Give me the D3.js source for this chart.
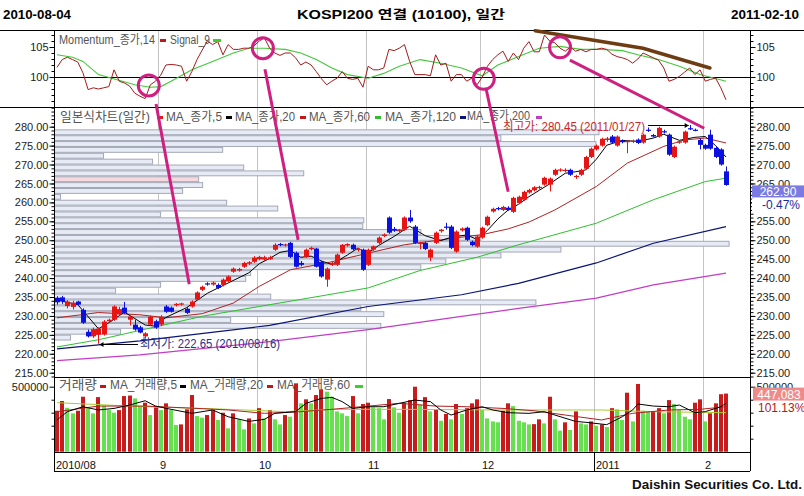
<!DOCTYPE html>
<html>
<head>
<meta charset="utf-8">
<script src="https://d3js.org/d3.v7.min.js"></script>
<style>
html,body{margin:0;padding:0;background:#fff;}
svg{display:block;}
text{font-family:"Liberation Sans","Noto Sans CJK KR",sans-serif;}
</style>
</head>
<body>
<svg id="chart" width="804" height="496"></svg>
<script>
// ------------------------- DATA -------------------------
const startDate = "2010-08-04";
const endDate = "2011-02-10";
const titleText = "KOSPI200 연결 (10100), 일간";
const monthLabels = ["2010/08","9","10","11","12","2011","2"];
const monthStart = [0,20,39,60,82,104,125];

const opens = [
234.8,234.9,232.6,232.4,233.8,231.6,225.8,224.6,225.0,225.1,
228.6,229.0,230.4,232.2,229.0,227.7,227.0,224.6,227.7,228.6,
227.7,232.5,232.2,232.8,233.0,231.9,232.5,234.3,236.9,238.6,
238.3,238.2,238.2,239.2,241.7,242.0,243.0,243.8,244.3,245.0,
244.9,245.0,247.5,249.0,248.6,249.3,246.7,244.0,245.6,247.6,
247.8,244.3,239.6,243.5,243.5,246.7,248.6,248.8,247.4,247.5,
243.5,247.5,249.3,251.1,256.0,253.0,252.4,252.8,256.0,253.6,
249.0,249.3,245.4,249.3,252.4,253.6,253.6,247.0,252.6,253.3,
249.6,248.3,250.7,254.0,257.6,258.5,258.0,258.6,257.5,259.8,
260.7,262.6,263.2,263.8,264.7,264.7,267.3,268.4,268.3,268.6,
266.7,267.3,268.9,272.0,274.0,275.0,276.5,277.4,275.0,276.3,
275.9,276.0,276.6,275.8,279.2,277.8,277.4,278.8,277.9,272.0,
275.8,275.8,279.6,279.2,276.5,275.2,277.9,274.4,274.0,268.2];
const highs = [
235.2,235.3,234.2,234.0,234.0,232.0,226.4,226.9,227.0,228.9,
229.3,232.8,232.4,233.7,230.1,229.0,227.4,225.7,230.1,229.0,
230.2,232.9,232.5,233.4,233.5,232.3,234.1,236.5,238.0,238.9,
239.1,238.6,239.9,240.7,242.8,242.7,244.3,244.5,245.8,245.9,
245.9,245.9,249.2,249.3,249.1,249.6,247.0,244.5,247.8,248.3,
248.0,244.6,242.8,244.3,246.5,249.0,249.2,249.1,248.0,247.8,
247.8,248.6,251.0,251.8,256.3,253.5,253.0,256.3,258.0,254.0,
249.6,249.6,247.8,252.3,253.0,254.6,254.0,252.6,253.4,253.6,
249.9,251.3,253.6,256.5,258.6,258.8,259.1,259.0,261.5,261.8,
263.1,263.6,264.3,264.4,266.8,266.6,268.9,269.0,269.0,268.9,
267.3,268.9,272.3,274.5,275.3,277.1,277.3,277.8,277.7,276.6,
276.5,276.6,276.9,278.2,279.8,278.1,280.0,279.2,278.2,275.0,
276.4,279.0,280.45,279.5,276.9,275.5,279.2,274.8,274.3,269.5];
const lows = [
233.0,233.2,232.0,231.7,232.6,227.9,224.3,224.2,222.65,224.8,
228.2,228.7,230.0,230.5,227.5,226.1,225.4,224.0,227.4,226.6,
227.3,230.8,230.9,232.5,232.7,230.5,232.2,234.0,236.6,238.0,
238.0,237.1,237.8,238.9,241.4,241.7,242.7,243.4,244.0,244.7,
244.6,244.8,247.2,248.4,248.3,245.3,242.8,243.1,245.3,247.3,
242.8,240.1,237.7,243.2,243.2,246.4,248.3,247.3,247.0,241.9,
243.2,247.2,249.0,250.8,251.7,252.2,252.0,252.5,254.6,249.0,
247.6,247.4,244.5,249.0,252.0,252.8,247.7,246.7,252.3,249.8,
248.4,248.0,250.4,253.7,257.3,257.9,257.7,257.8,257.2,259.5,
260.4,262.3,262.9,263.4,264.4,262.9,267.0,268.1,268.0,267.0,
266.2,267.0,268.6,271.7,273.7,274.7,276.0,275.5,274.7,275.6,
273.0,275.7,275.4,275.5,278.6,277.2,277.1,278.2,272.3,271.7,
275.5,275.5,279.1,278.8,274.0,273.9,273.9,271.7,269.7,264.4];
const closes = [
233.6,233.9,233.8,233.5,233.0,228.2,224.6,226.5,226.6,228.5,
229.0,232.5,231.8,230.8,229.8,226.4,225.6,225.4,229.8,226.9,
229.8,231.1,231.1,233.2,233.3,230.8,233.8,236.2,237.7,238.3,
238.8,237.4,239.6,240.4,242.5,242.4,244.0,244.2,245.4,245.6,
245.5,245.5,248.8,248.7,248.9,245.6,243.0,243.5,247.5,248.0,
243.0,240.4,242.5,244.0,246.2,248.8,249.0,247.6,247.7,242.2,
247.5,248.4,250.7,251.5,252.0,252.5,252.8,256.0,255.0,249.3,
249.4,247.7,247.5,252.0,252.8,253.3,248.0,252.3,253.1,250.1,
248.7,251.0,253.3,256.2,258.3,258.2,258.8,258.0,261.2,261.5,
262.8,263.3,264.0,264.1,266.5,266.3,268.6,268.7,268.6,267.3,
267.0,268.6,272.0,274.2,275.0,276.8,276.9,275.8,277.4,275.9,
276.3,276.3,275.7,277.9,278.9,277.4,279.7,278.5,272.6,274.7,
276.1,278.7,279.3,279.0,275.2,274.2,274.2,272.0,270.0,264.6];

const volumes = [
315000,390000,338000,295000,315000,423000,335000,295000,420000,351000,
321000,300000,320000,428000,432000,410000,351000,377000,282000,341000,
320000,372000,320000,205000,210000,326000,436000,274000,262000,282000,
320000,244000,300000,180000,295000,249000,172000,256000,218000,335000,
256000,320000,249000,210000,282000,269000,526000,372000,403000,372000,
436000,480000,462000,423000,310000,295000,274000,428000,295000,367000,
377000,341000,335000,249000,405000,341000,300000,377000,397000,500000,
362000,420000,310000,326000,238000,290000,249000,367000,290000,335000,
372000,403000,320000,256000,233000,226000,315000,372000,351000,238000,
226000,210000,212000,249000,218000,423000,249000,162000,226000,167000,
310000,218000,210000,233000,200000,210000,190000,335000,326000,244000,
454000,233000,521000,315000,310000,312000,335000,295000,397000,367000,
320000,269000,249000,377000,403000,233000,295000,372000,442100,447083];

// price moving averages: [day index, value]
const ma5Price = [[0,234.2],[4,233.0],[8,226.6],[10,228.2],[13,231.0],[17,227.6],[19,227.3],[21,229.6],[25,232.2],[29,236.0],[33,238.7],[37,241.4],[39,243.8],[41,245.2],[43,246.8],[45,247.3],[47,245.5],[49,245.8],[51,244.5],[53,243.6],[56,246.1],[58,247.9],[60,246.6],[62,248.6],[65,251.0],[68,253.7],[71,251.2],[74,249.9],[76,250.8],[79,251.4],[81,250.2],[83,252.6],[85,255.6],[87,258.0],[89,259.5],[91,261.5],[93,263.2],[95,264.9],[98,267.7],[100,268.1],[102,268.6],[104,271.4],[106,275.1],[109,276.4],[112,276.1],[115,277.0],[117,278.0],[120,276.4],[123,277.2],[125,277.4],[127,275.0],[129,272.0]];
const ma20Price = [[0,229.5],[8,230.9],[16,230.3],[21,229.5],[28,230.6],[34,233.4],[39,237.8],[45,242.2],[52,244.0],[60,246.6],[67,248.8],[74,250.1],[82,251.5],[87,253.0],[91,254.8],[96,258.0],[104,264.2],[110,270.4],[117,274.8],[121,276.5],[125,277.0],[129,275.7]];
const ma60Price = [[0,221.8],[8,223.7],[18,226.8],[28,229.9],[39,232.5],[60,237.4],[70,242.0],[81,245.5],[89,248.8],[104,254.5],[115,260.7],[125,265.5],[129,266.4]];
const ma120Price = [[0,221.3],[16,223.4],[41,227.5],[60,232.5],[78,235.6],[89,238.6],[104,244.0],[115,249.2],[129,253.6]];
const ma200Price = [[0,218.2],[16,219.7],[41,223.2],[60,226.4],[78,229.9],[89,232.0],[104,234.7],[115,238.2],[129,241.3]];

// volume moving averages: [day index, value]
const ma5Vol = [[0,244000],[2,308000],[5,346000],[8,321000],[11,333000],[14,359000],[17,392000],[19,351000],[22,326000],[26,295000],[30,321000],[33,269000],[37,233000],[40,249000],[42,295000],[46,308000],[48,372000],[51,410000],[53,418000],[55,385000],[57,333000],[60,346000],[63,346000],[66,372000],[69,397000],[72,385000],[74,321000],[76,282000],[79,321000],[82,346000],[84,321000],[87,300000],[91,295000],[94,308000],[96,282000],[100,233000],[102,226000],[106,208000],[109,269000],[111,321000],[112,367000],[115,351000],[118,346000],[120,359000],[123,300000],[125,308000],[128,346000],[129,372000]];
const ma20Vol = [[0,308000],[8,351000],[17,351000],[27,333000],[33,321000],[40,295000],[47,308000],[53,326000],[66,372000],[73,351000],[79,346000],[86,333000],[92,315000],[98,282000],[105,244000],[111,295000],[118,321000],[124,326000],[129,346000]];
const ma60Vol = [[0,377000],[14,351000],[33,326000],[44,308000],[53,326000],[66,326000],[86,321000],[105,321000],[115,308000],[129,300000]];

// momentum (14) and its signal (9)
const momentum = [
101.6,102.9,103.3,102.9,102.5,100.7,97.9,98.2,98.0,98.2,
98.4,101.2,99.3,99.0,98.5,97.3,96.8,96.4,98.7,99.3,
100.3,102.0,102.1,102.0,101.8,99.3,100.9,102.9,104.5,106.0,
105.4,105.9,103.7,105.4,104.6,104.6,104.8,104.8,105.2,106.0,
106.5,104.8,104.0,103.6,104.0,104.0,103.2,102.0,102.5,102.0,
100.9,99.7,98.7,99.3,99.8,100.9,99.8,99.6,99.8,98.3,
101.8,101.2,101.2,101.5,104.6,104.4,104.8,105.4,102.6,100.4,
100.4,100.4,100.2,103.7,102.0,102.3,99.3,100.4,100.4,99.3,
99.8,98.7,100.0,101.8,102.9,103.7,104.3,102.6,104.0,102.9,
104.8,105.9,104.2,104.2,107.0,106.0,105.7,104.8,104.3,105.0,
104.3,104.6,104.2,104.6,104.6,104.8,104.6,103.8,103.4,103.2,
102.9,102.3,103.0,104.0,103.6,103.2,102.8,101.5,99.3,99.6,
100.1,100.8,101.5,100.4,101.2,99.3,99.6,99.8,98.2,96.2];
const signal = [[0,103.7],[3,103.3],[5,102.6],[8,100.4],[15,98.7],[18,98.3],[20,98.4],[22,99.3],[26,101.2],[30,102.6],[34,104.0],[37,104.8],[40,104.8],[44,104.6],[47,104.0],[50,102.9],[53,101.5],[56,100.4],[60,99.8],[63,100.6],[66,101.8],[70,102.9],[74,102.3],[78,101.5],[82,100.2],[85,102.0],[89,103.4],[93,104.8],[97,105.1],[101,104.6],[105,104.6],[109,104.4],[112,103.7],[116,102.9],[120,101.8],[124,100.4],[129,99.3]];

// price-by-volume profile (top bucket first)
const profileTop = 279.3;
const profileStep = 1.55;
const profileVol = [544,446,541,168,49,98,189,249,144,148,128,6,172,223,106,309,308,366,426,674,506,446,391,366,196,191,106,61,216,481,306,329,176,326,66,16];
const profileHighlight = 8;

// tick labels
const priceTicks = [215,220,225,230,235,240,245,250,255,260,265,270,275,280];
const momTicks = [100,105];
const volTicks = [500000];

// extremes and last values
const highMark = {idx:122, price:280.45, label:"최고가: 280.45 (2011/01/27)"};
const lowMark = {idx:8, price:222.65, label:"최저가: 222.65 (2010/08/16)"};
const lastPrice = 262.90, lastChange = "-0.47%";
const lastVol = 447083, lastVolRatio = "101.13%";

// hand-drawn annotations
const momCircles = [[17.7,98.6],[39.7,104.8],[82.3,99.7],[97,104.95]];
const arrowLines = [ // [startIdx, startMomentum, endIdx, endPrice]
  [19.1,95.5,25.5,238.4],[40.1,101.3,46.5,250.1],[82.7,98.2,87.0,262.8],[98.9,102.8,124.8,279.6]];
const trendLine = [[92.2,107.7],[113,104.8],[125.9,101.5]];

// ------------------------- DRAW -------------------------
const N = closes.length;
const svg = d3.select("#chart");
const L = 54, R = 750;
const mTop = 30, mBot = 107, pTop = 107, pBot = 377, vTop = 377, vBot = 452, axBot = 471;

const x = d3.scaleBand().domain(d3.range(N)).range([54.4, 728.6]);
const xc = i => x(i) + x.bandwidth() / 2;
const xf = d3.scaleLinear().domain([0, N - 1]).range([xc(0), xc(N - 1)]);
const yM = d3.scaleLinear().domain([95, 105]).range([107, 47]);
const yP = d3.scaleLinear().domain([215, 280]).range([372.7, 126.7]);
const yV = d3.scaleLinear().domain([0, 500000]).range([451.7, 386.7]);

svg.append("rect").attr("width", 804).attr("height", 496).attr("fill", "#fff");

const defs = svg.append("defs");
function clip(id, y0, y1) {
  defs.append("clipPath").attr("id", id).append("rect")
    .attr("x", L).attr("y", y0).attr("width", R - L).attr("height", y1 - y0);
}
clip("cm", mTop, mBot); clip("cp", pTop, pBot); clip("cv", vTop, vBot);

// header
const hdrFont = "'Liberation Sans','Noto Sans CJK KR',sans-serif";
svg.append("text").attr("x", 3).attr("y", 19).attr("font-size", 12.5).attr("font-weight", "bold")
  .style("font-family", hdrFont)
  .attr("textLength", 68).attr("lengthAdjust", "spacingAndGlyphs").text(startDate);
svg.append("text").attr("x", 297).attr("y", 19).attr("font-size", 12.5).attr("font-weight", "bold")
  .style("font-family", hdrFont)
  .attr("textLength", 208).attr("lengthAdjust", "spacingAndGlyphs").text(titleText);
svg.append("text").attr("x", 731).attr("y", 19).attr("font-size", 12.5).attr("font-weight", "bold")
  .style("font-family", hdrFont)
  .attr("textLength", 68).attr("lengthAdjust", "spacingAndGlyphs").text(endDate);

// vertical month gridlines
const grid = svg.append("g");
monthStart.slice(1).forEach(i => {
  grid.append("line").attr("x1", Math.round(x(i)) + 0.5).attr("x2", Math.round(x(i)) + 0.5)
    .attr("y1", mTop).attr("y2", vBot).attr("stroke", "#c4c4c4");
});

// ---- price-by-volume profile ----
const pw = d3.scaleLinear().domain([0, d3.max(profileVol)]).range([0, 728.6 - L]);
const prof = svg.append("g").attr("clip-path", "url(#cp)");
profileVol.forEach((v, k) => {
  const top = yP(profileTop - k * profileStep);
  const bot = yP(profileTop - (k + 1) * profileStep);
  prof.append("rect").attr("x", L + 0.5).attr("y", top + 0.5)
    .attr("width", pw(v)).attr("height", bot - top - 1)
    .attr("fill", k === profileHighlight ? "#f6d8e0" : "#e6ebf5")
    .attr("stroke", "#a3a8b6").attr("stroke-width", 1);
});

// ---- price MAs ----
const pl = d3.line().x(d => xf(d[0])).y(d => yP(d[1]));
const pg = svg.append("g").attr("clip-path", "url(#cp)").attr("fill", "none");
pg.append("path").attr("d", pl(ma200Price)).attr("stroke", "#c23cc8").attr("stroke-width", 1.2);
pg.append("path").attr("d", pl(ma120Price)).attr("stroke", "#0a1478").attr("stroke-width", 1.2);
pg.append("path").attr("d", pl(ma60Price)).attr("stroke", "#2ec02e").attr("stroke-width", 1);
pg.append("path").attr("d", pl(ma20Price)).attr("stroke", "#b22222").attr("stroke-width", 1);

// ---- candles ----
const cg = svg.append("g").attr("clip-path", "url(#cp)");
for (let i = 0; i < N; i++) {
  const up = closes[i] >= opens[i];
  const col = up ? "#e81414" : "#0a10e0";
  const cxp = Math.round(xc(i)) + 0.5;
  cg.append("line").attr("x1", cxp).attr("x2", cxp).attr("y1", yP(highs[i])).attr("y2", yP(lows[i]))
    .attr("stroke", col).attr("stroke-width", 1);
  const yt = yP(Math.max(opens[i], closes[i])), yb = yP(Math.min(opens[i], closes[i]));
  cg.append("rect").attr("x", cxp - 2.5).attr("y", yt).attr("width", 5)
    .attr("height", Math.max(1.2, yb - yt)).attr("fill", col);
}
pg.append("path").attr("d", pl(ma5Price)).attr("stroke", "#000").attr("stroke-width", 1);

// ---- momentum ----
const mg = svg.append("g").attr("clip-path", "url(#cm)").attr("fill", "none");
mg.append("line").attr("x1", L).attr("x2", R).attr("y1", Math.round(yM(100)) + 0.5).attr("y2", Math.round(yM(100)) + 0.5)
  .attr("stroke", "#000");
mg.append("path").attr("d", d3.line().x(d => xf(d[0])).y(d => yM(d[1]))(signal))
  .attr("stroke", "#44c83c").attr("stroke-width", 1.1);
mg.append("path").attr("d", d3.line().x((d, i) => xc(i)).y(d => yM(d))(momentum))
  .attr("stroke", "#a41c1c").attr("stroke-width", 1);

// ---- volume ----
const vg = svg.append("g").attr("clip-path", "url(#cv)");
volumes.forEach((v, i) => {
  const up = i === 0 || v > volumes[i - 1];
  vg.append("rect").attr("x", Math.round(xc(i)) - 2).attr("y", yV(v)).attr("width", 4)
    .attr("height", yV(0) - yV(v)).attr("fill", up ? "#c81c1c" : "#66e04e");
});
const vl = d3.line().x(d => xf(d[0])).y(d => yV(d[1]));
vg.append("path").attr("d", vl(ma60Vol)).attr("fill", "none").attr("stroke", "#a6cc30").attr("stroke-width", 1);
vg.append("path").attr("d", vl(ma20Vol)).attr("fill", "none").attr("stroke", "#b02020").attr("stroke-width", 1);
vg.append("path").attr("d", vl(ma5Vol)).attr("fill", "none").attr("stroke", "#000").attr("stroke-width", 1);

// ---- frame lines ----
const fr = svg.append("g").attr("stroke", "#000").attr("stroke-width", 1);
[[0, 804, mTop], [0, 804, mBot], [L, R, vTop], [L, R, vBot], [L, R, axBot]].forEach(d => {
  fr.append("line").attr("x1", d[0]).attr("x2", d[1]).attr("y1", d[2] + 0.5).attr("y2", d[2] + 0.5);
});
[L, R].forEach(xx => fr.append("line").attr("x1", xx + 0.5).attr("x2", xx + 0.5).attr("y1", mTop).attr("y2", axBot));
fr.append("line").attr("x1", Math.round(x(monthStart[5])) + 0.5).attr("x2", Math.round(x(monthStart[5])) + 0.5)
  .attr("y1", vBot).attr("y2", axBot);

// ---- axes ----
function drawAxis(gen, xpos, scale, major, fmt, minor, hideLabels) {
  const g1 = svg.append("g").attr("transform", `translate(${xpos + 0.5},0)`)
    .call(gen(scale).tickValues(major).tickFormat(fmt).tickSizeInner(5).tickSizeOuter(0).tickPadding(1));
  g1.select(".domain").remove();
  g1.selectAll("text").attr("font-size", 11).attr("fill", "#222")
    .style("font-family", "'Liberation Sans',sans-serif");
  if (hideLabels) g1.selectAll("text").filter(d => hideLabels.includes(d)).remove();
  g1.selectAll("line").attr("stroke", "#000");
  const g2 = svg.append("g").attr("transform", `translate(${xpos + 0.5},0)`)
    .call(gen(scale).tickValues(minor).tickFormat("").tickSizeInner(3).tickSizeOuter(0));
  g2.select(".domain").remove();
  g2.selectAll("line").attr("stroke", "#000");
}
const pf = d => d.toFixed(2);
const priceMinor = d3.range(214, 286, 1);
const momMinor = d3.range(96, 108, 1);
const volMinor = [100000, 200000, 300000, 400000];
drawAxis(d3.axisLeft, L, yP, priceTicks, pf, priceMinor);
drawAxis(d3.axisLeft, L, yM, momTicks, d => String(d), momMinor);
drawAxis(d3.axisLeft, L, yV, volTicks, d => String(d), volMinor);
// on the right, the 260.00 label sits under the change-percent tag (hidden in the original)
drawAxis(d3.axisRight, R, yP, priceTicks, pf, priceMinor, [260]);
drawAxis(d3.axisRight, R, yM, momTicks, d => String(d), momMinor);
drawAxis(d3.axisRight, R, yV, volTicks, d => String(d), volMinor);

// x axis labels
monthLabels.forEach((lab, k) => {
  svg.append("text").attr("x", Math.round(x(monthStart[k])) + 2).attr("y", 469)
    .attr("font-size", 11).attr("fill", "#111").text(lab);
});

// ---- legends ----
function ltext(xp, yp, t, len, size) {
  svg.append("text").attr("x", xp).attr("y", yp).attr("font-size", size || 12).attr("fill", "#555")
    .attr("textLength", len).attr("lengthAdjust", "spacingAndGlyphs").text(t);
}
function lmark(xp, yp, col, w) {
  svg.append("rect").attr("x", xp).attr("y", yp).attr("width", w || 6).attr("height", 3).attr("fill", col);
}
ltext(59, 44, "Momentum_종가,14", 96, 12); lmark(160, 39, "#c01818");
ltext(170, 44, "Signal_9", 40, 12); lmark(213, 39, "#3cd02c", 8);

ltext(60, 121, "일본식차트(일간)", 90, 13); lmark(157, 116, "#e41a1a");
ltext(166, 121, "MA_종가,5", 56); lmark(226, 116, "#000");
ltext(235, 121, "MA_종가,20", 60); lmark(300, 116, "#c01818");
ltext(309, 121, "MA_종가,60", 61); lmark(375, 116, "#2ec02e");
ltext(385, 121, "MA_종가,120", 71); lmark(460, 116, "#0a1478");
ltext(467, 120, "MA_종가,200", 63); lmark(536, 116, "#c23cc8");

ltext(59, 389, "거래량", 38, 13); lmark(100, 385, "#c01818");
ltext(110, 389, "MA_거래량,5", 67); lmark(180, 385, "#000");
ltext(190, 389, "MA_거래량,20", 73); lmark(267, 385, "#c01818");
ltext(277, 389, "MA_거래량,60", 73); lmark(355, 385, "#3cd02c", 8);

// ---- high / low markers ----
const hy = Math.round(yP(highMark.price)) + 0.5;
svg.append("text").attr("x", 503).attr("y", 131).attr("font-size", 12).attr("fill", "#c82828")
  .attr("textLength", 142).attr("lengthAdjust", "spacingAndGlyphs").text(highMark.label);
svg.append("line").attr("x1", 648).attr("x2", xc(highMark.idx) - 1).attr("y1", hy).attr("y2", hy).attr("stroke", "#000");
svg.append("path").attr("d", `M${xc(highMark.idx) - 1},${hy} l-4,-2.5 l0,5 z`).attr("fill", "#000");
const ly = Math.round(yP(lowMark.price)) + 0.5;
svg.append("text").attr("x", 140).attr("y", 348).attr("font-size", 12).attr("fill", "#26308a")
  .attr("textLength", 140).attr("lengthAdjust", "spacingAndGlyphs").text(lowMark.label);
svg.append("line").attr("x1", xc(lowMark.idx) + 1).attr("x2", 138).attr("y1", ly).attr("y2", ly).attr("stroke", "#000");
svg.append("path").attr("d", `M${xc(lowMark.idx) + 1},${ly} l4,-2.5 l0,5 z`).attr("fill", "#000");

// ---- last value tags ----
const lpy = yP(lastPrice);
svg.append("rect").attr("x", 752).attr("y", lpy - 6).attr("width", 52).attr("height", 12).attr("fill", "#7a7ae2");
svg.append("text").attr("x", 778).attr("y", lpy + 4.5).attr("text-anchor", "middle").attr("font-size", 12)
  .attr("fill", "#fff").text(lastPrice.toFixed(2));
svg.append("rect").attr("x", 752).attr("y", lpy + 7).attr("width", 52).attr("height", 14).attr("fill", "#fff");
svg.append("text").attr("x", 762).attr("y", lpy + 18).attr("font-size", 12).attr("fill", "#1a2a9a").text(lastChange);
const lvy = yV(lastVol);
svg.append("rect").attr("x", 753).attr("y", lvy - 6).attr("width", 51).attr("height", 13).attr("fill", "#ef8a8a");
svg.append("text").attr("x", 779).attr("y", lvy + 5).attr("text-anchor", "middle").attr("font-size", 12)
  .attr("fill", "#fff").text(d3.format(",")(lastVol));
svg.append("text").attr("x", 758).attr("y", lvy + 18.5).attr("font-size", 12).attr("fill", "#b01818").text(lastVolRatio);

// ---- annotations ----
const ann = svg.append("g").attr("fill", "none");
ann.append("path").attr("d", d3.line().x(d => xf(d[0])).y(d => yM(d[1]))(trendLine))
  .attr("stroke", "#6e3c12").attr("stroke-width", 3.5).attr("stroke-linecap", "round");
momCircles.forEach(c => {
  ann.append("circle").attr("cx", xf(c[0])).attr("cy", yM(c[1])).attr("r", 10.5)
    .attr("stroke", "#cf1f80").attr("stroke-width", 3);
});
arrowLines.forEach(a => {
  ann.append("line").attr("x1", xf(a[0])).attr("y1", yM(a[1])).attr("x2", xf(a[2])).attr("y2", yP(a[3]))
    .attr("stroke", "#cf1f80").attr("stroke-width", 3);
});

// footer
svg.append("text").attr("x", 632).attr("y", 489).attr("font-size", 13).attr("font-weight", "bold")
  .attr("fill", "#111").attr("textLength", 170).attr("lengthAdjust", "spacingAndGlyphs")
  .text("Daishin Securities Co. Ltd.");
</script>
</body>
</html>
